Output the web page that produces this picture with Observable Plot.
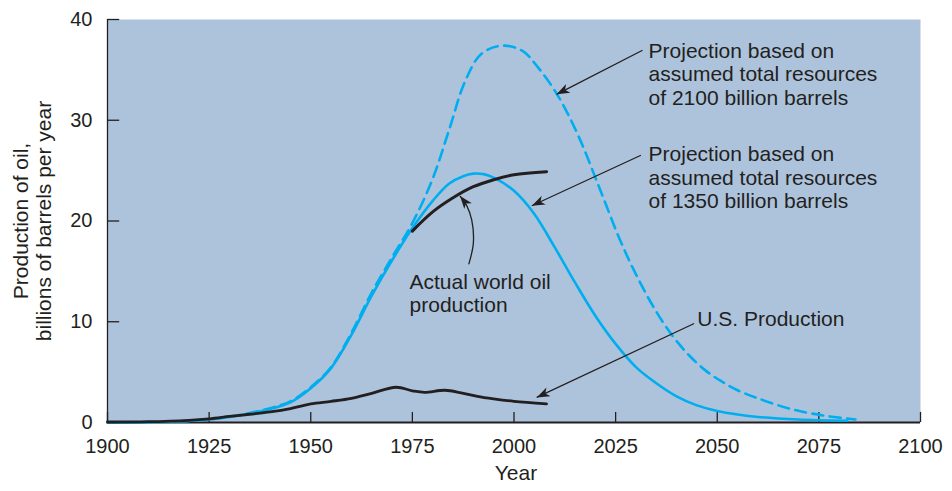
<!DOCTYPE html>
<html>
<head>
<meta charset="utf-8">
<script src="https://cdn.jsdelivr.net/npm/d3@7"></script>
<script src="https://cdn.jsdelivr.net/npm/@observablehq/plot@0.6"></script>
<style>
  html, body { margin: 0; padding: 0; background: #ffffff; }
</style>
</head>
<body>
<div id="chart"></div>
<script>
// ---- Tick labels ----
const xTicks = [1900, 1925, 1950, 1975, 2000, 2025, 2050, 2075, 2100];
const yTicks = [0, 10, 20, 30, 40];

// ---- Series: projection, 1350 billion barrels (solid blue) ----
const years1350 = [1900, 1910, 1920, 1925, 1930, 1935, 1940, 1945, 1950, 1955, 1960, 1965, 1970, 1975, 1980, 1984, 1987.5, 1990, 1992.5, 1995, 2000, 2005, 2010, 2015, 2020, 2025, 2030, 2035, 2040, 2045, 2050, 2055, 2060, 2070, 2082];
const values1350 = [0.0, 0.03, 0.15, 0.3, 0.55, 0.9, 1.35, 2.0, 3.4, 5.4, 8.7, 12.6, 16.1, 19.3, 22.0, 23.7, 24.45, 24.7, 24.65, 24.3, 23.0, 20.7, 17.4, 13.9, 10.6, 7.8, 5.5, 3.9, 2.6, 1.7, 1.15, 0.8, 0.55, 0.3, 0.18];

// ---- Series: projection, 2100 billion barrels (dashed blue) ----
const years2100 = [1900, 1910, 1920, 1925, 1930, 1935, 1940, 1945, 1950, 1955, 1960, 1965, 1970, 1975, 1980, 1984, 1988, 1992, 1997, 2002, 2006, 2011, 2016, 2021, 2026, 2030, 2035, 2039, 2043, 2047, 2051, 2055, 2060, 2068, 2076, 2084];
const values2100 = [0.0, 0.03, 0.16, 0.32, 0.58, 0.95, 1.42, 2.1, 3.5, 5.5, 8.9, 12.9, 16.4, 19.8, 24.2, 29.0, 33.9, 36.6, 37.4, 36.9, 35.2, 32.3, 28.3, 23.3, 18.2, 14.7, 11.0, 8.6, 6.7, 5.2, 4.1, 3.2, 2.4, 1.35, 0.7, 0.3];

// ---- Series: actual world oil production (black) ----
const yearsWorld = [1975, 1980, 1985, 1990, 1995, 2000, 2008];
const valuesWorld = [19.0, 20.9, 22.3, 23.4, 24.1, 24.6, 24.9];

// ---- Series: U.S. production (black) ----
const yearsUS = [1900, 1910, 1920, 1925, 1930, 1935, 1940, 1945, 1950, 1955, 1960, 1965, 1971, 1975, 1978, 1983, 1987, 1991, 1995, 2000, 2008];
const valuesUS = [0.05, 0.08, 0.22, 0.37, 0.6, 0.82, 1.05, 1.38, 1.85, 2.1, 2.4, 2.9, 3.5, 3.15, 3.0, 3.2, 2.95, 2.6, 2.35, 2.1, 1.85];

// ---- Annotation texts and anchor points (year, value) ----
const noteTexts = [
  "Projection based on\nassumed total resources\nof 2100 billion barrels",
  "Projection based on\nassumed total resources\nof 1350 billion barrels",
  "Actual world oil\nproduction",
  "U.S. Production"
];
const noteYears = [2033.1, 2033.1, 1974.3, 2045.1];
const noteValues = [34.61, 24.36, 12.85, 10.29];

// ---- Arrow paths (year, value), last point is the arrow tip ----
const arrow2100 = [[2031.5, 36.92], [2010.6, 32.6]];
const arrow1350 = [[2031.1, 26.5], [2004.5, 21.54]];
const arrowWorld = [[1988.9, 15.75], [1990.0, 17.8], [1989.6, 20.1], [1988.4, 21.5], [1986.8, 22.45]];
const arrowUS = [[2044.2, 9.8], [2005.7, 2.51]];

const yTitle = "Production of oil,\nbillions of barrels per year";
const xTitle = "Year";

const BG = "#adc3dc";
const BLUE = "#00aeef";
const INK = "#231f20";
const FONT = "'Liberation Sans', Arial, Helvetica, sans-serif";

const toRows = (xs, ys) => xs.map((x, i) => ({x, y: ys[i]}));
const arrowRows = (pts) => pts.map(([x, y]) => ({x, y}));

const chart = Plot.plot({
  width: 952,
  height: 491,
  marginLeft: 107,
  marginRight: 32,
  marginTop: 19,
  marginBottom: 69,
  style: {fontFamily: FONT, fontSize: "20px", color: INK, background: "#ffffff", overflow: "visible"},
  x: {domain: [1900, 2100]},
  y: {domain: [0, 40]},
  marks: [
    Plot.frame({fill: BG, stroke: "none"}),
    // axis labels
    Plot.axisX({ticks: xTicks, tickSize: 0, tickPadding: 16, label: null, fontSize: 20, tickFormat: d => String(d), color: INK}),
    Plot.axisY({ticks: yTicks, tickSize: 0, tickPadding: 15, label: null, fontSize: 20, color: INK}),
    // inward ticks
    Plot.ruleX(xTicks, {x: d => d, y1: 0, y2: 1, stroke: INK, strokeWidth: 1.3}),
    Plot.ruleY(yTicks, {y: d => d, x1: 1900, x2: 1903, stroke: INK, strokeWidth: 1.3}),
    // axis lines
    Plot.ruleY([0], {x1: 1900, x2: 2100, stroke: INK, strokeWidth: 1.8}),
    Plot.ruleX([1900], {y1: 0, y2: 40, stroke: INK, strokeWidth: 1.3}),
    // series
    Plot.line(toRows(years2100, values2100), {x: "x", y: "y", stroke: BLUE, strokeWidth: 2.6, strokeDasharray: "11,6.5", curve: "catmull-rom"}),
    Plot.line(toRows(years1350, values1350), {x: "x", y: "y", stroke: BLUE, strokeWidth: 2.6, curve: "catmull-rom"}),
    Plot.line(toRows(yearsUS, valuesUS), {x: "x", y: "y", stroke: INK, strokeWidth: 2.8, curve: "catmull-rom"}),
    Plot.line(toRows(yearsWorld, valuesWorld), {x: "x", y: "y", stroke: INK, strokeWidth: 3, curve: "catmull-rom"}),
    // arrows
    Plot.line(arrowRows(arrow2100), {x: "x", y: "y", stroke: INK, strokeWidth: 1.3, markerEnd: "arrow"}),
    Plot.line(arrowRows(arrow1350), {x: "x", y: "y", stroke: INK, strokeWidth: 1.3, markerEnd: "arrow"}),
    Plot.line(arrowRows(arrowWorld), {x: "x", y: "y", stroke: INK, strokeWidth: 1.3, curve: "catmull-rom", markerEnd: "arrow"}),
    Plot.line(arrowRows(arrowUS), {x: "x", y: "y", stroke: INK, strokeWidth: 1.3, markerEnd: "arrow"}),
    // annotations
    Plot.text(noteTexts, {x: (d, i) => noteYears[i], y: (d, i) => noteValues[i], text: d => d, textAnchor: "start", lineAnchor: "middle", lineHeight: 1.13, fontSize: 21, fill: INK}),
    // axis titles
    Plot.text([yTitle], {frameAnchor: "left", dx: -75, rotate: -90, textAnchor: "middle", lineAnchor: "middle", lineHeight: 1.08, fontSize: 21, fill: INK, text: d => d}),
    Plot.text([xTitle], {frameAnchor: "bottom", dy: 57, dx: 2, textAnchor: "middle", fontSize: 21, fill: INK, text: d => d})
  ]
});

// restyle arrow markers as filled, notched arrowheads
chart.querySelectorAll("marker").forEach(m => {
  const color = m.getAttribute("stroke") || INK;
  m.setAttribute("viewBox", "-13 -5 14 10");
  m.setAttribute("markerUnits", "userSpaceOnUse");
  m.setAttribute("markerWidth", "14");
  m.setAttribute("markerHeight", "10");
  m.setAttribute("refX", "0");
  m.setAttribute("refY", "0");
  m.setAttribute("fill", color);
  m.setAttribute("stroke", "none");
  m.innerHTML = "";
  const p = document.createElementNS("http://www.w3.org/2000/svg", "path");
  p.setAttribute("d", "M0.5,0L-12.5,-4.8L-9,0L-12.5,4.8Z");
  m.appendChild(p);
});

document.getElementById("chart").appendChild(chart);
</script>
</body>
</html>
